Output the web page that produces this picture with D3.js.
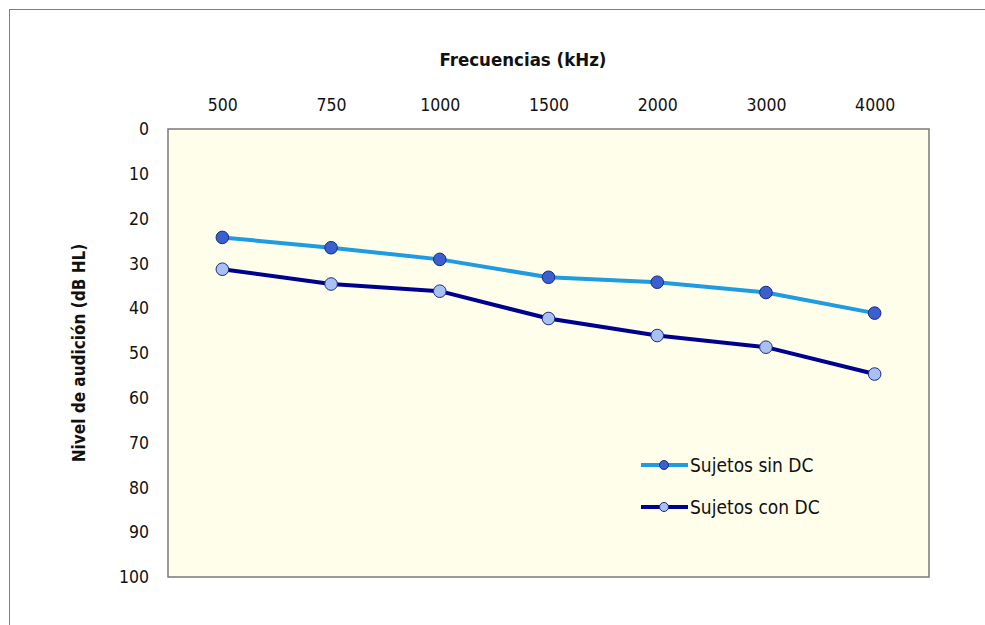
<!DOCTYPE html>
<html><head><meta charset="utf-8">
<script src="https://cdn.jsdelivr.net/npm/d3@7"></script>
<style>
body{margin:0;background:#fff;}
text{font-family:"DejaVu Sans Condensed","DejaVu Sans",sans-serif;}
</style></head>
<body>
<svg id="c" width="985" height="625"></svg>
<script>
const frequencies = ["500","750","1000","1500","2000","3000","4000"];
const sinDC = [24.2, 26.5, 29.1, 33.1, 34.2, 36.5, 41.1];
const conDC = [31.3, 34.6, 36.2, 42.3, 46.1, 48.7, 54.7];
const yTicks = [0,10,20,30,40,50,60,70,80,90,100];
const seriesNames = ["Sujetos sin DC","Sujetos con DC"];

const svg = d3.select("#c");
// outer frame
svg.append("rect").attr("x",9.5).attr("y",9.5).attr("width",1000).attr("height",700)
  .attr("fill","#fff").attr("stroke","#7f7f7f").attr("stroke-width",1);

const L=168, R=929, T=129, B=577;
const x = d3.scalePoint().domain(frequencies).range([L,R]).padding(0.5);
const y = d3.scaleLinear().domain([0,100]).range([T,B]);

svg.append("rect").attr("x",L).attr("y",T).attr("width",R-L).attr("height",B-T)
  .attr("fill","#FEFEEA").attr("stroke","#7a7a7a").attr("stroke-width",1.5);

// top x axis
const xAxis = svg.append("g").attr("transform",`translate(0,${T})`)
  .call(d3.axisTop(x).tickSize(0).tickPadding(18));
xAxis.select(".domain").remove();
xAxis.selectAll("text").attr("font-size",17.5).attr("fill","#111")
  .style("font-family",'"DejaVu Sans Condensed","DejaVu Sans",sans-serif');

// left y axis
const yAxis = svg.append("g").attr("transform",`translate(${L},0)`)
  .call(d3.axisLeft(y).tickValues(yTicks).tickSize(0).tickPadding(19));
yAxis.select(".domain").remove();
yAxis.selectAll("text").attr("font-size",17.5).attr("fill","#111")
  .style("font-family",'"DejaVu Sans Condensed","DejaVu Sans",sans-serif');

// titles
svg.append("text").attr("x",523).attr("y",66).attr("text-anchor","middle")
  .attr("font-size",18.5).attr("font-weight","bold").attr("fill","#111")
  .text("Frecuencias (kHz)");
svg.append("text").attr("transform",`translate(85,${(T+B)/2}) rotate(-90)`)
  .attr("text-anchor","middle").attr("font-size",17).attr("font-weight","bold").attr("fill","#111")
  .text("Nivel de audición (dB HL)");

const series = [
  {name:seriesNames[0], vals:sinDC, line:"#1F9BE0", fill:"#3B5FCF", stroke:"#1B2A86"},
  {name:seriesNames[1], vals:conDC, line:"#00008F", fill:"#A9C1F2", stroke:"#1B2A86"}
];
const lineGen = d3.line().x((d,i)=>x(frequencies[i])).y(d=>y(d));
series.forEach(s=>{
  svg.append("path").datum(s.vals).attr("d",lineGen).attr("fill","none")
    .attr("stroke",s.line).attr("stroke-width",4).attr("stroke-linejoin","round");
  svg.selectAll(null).data(s.vals).enter().append("circle")
    .attr("cx",(d,i)=>x(frequencies[i])).attr("cy",d=>y(d)).attr("r",6.3)
    .attr("fill",s.fill).attr("stroke",s.stroke).attr("stroke-width",1);
});

// legend
series.forEach((s,i)=>{
  const ly = 465 + i*42;
  svg.append("line").attr("x1",641).attr("x2",688).attr("y1",ly).attr("y2",ly)
    .attr("stroke",s.line).attr("stroke-width",4);
  svg.append("circle").attr("cx",664).attr("cy",ly).attr("r",4.5)
    .attr("fill",s.fill).attr("stroke",s.stroke).attr("stroke-width",1);
  svg.append("text").attr("x",690).attr("y",ly+7).attr("font-size",19).attr("fill","#111")
    .text(s.name);
});
</script>
</body></html>
